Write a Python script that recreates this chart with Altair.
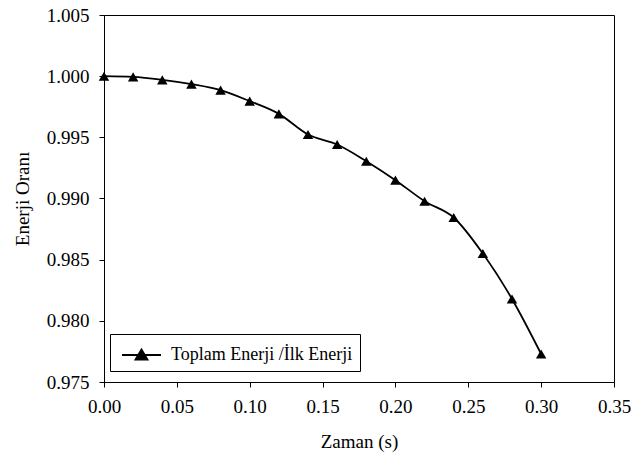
import altair as alt
import pandas as pd

zaman = [0.00, 0.02, 0.04, 0.06, 0.08, 0.10, 0.12, 0.14, 0.16, 0.18, 0.20, 0.22, 0.24, 0.26, 0.28, 0.30]
oran = [1.00000, 0.99994, 0.99970, 0.99935, 0.99886, 0.99796, 0.99692, 0.99523, 0.99441,
        0.99305, 0.99150, 0.98978, 0.98845, 0.98550, 0.98179, 0.97729]
seri = "Toplam Enerji /İlk Enerji"
x_ticks = [0.00, 0.05, 0.10, 0.15, 0.20, 0.25, 0.30, 0.35]
y_ticks = [0.975, 0.980, 0.985, 0.990, 0.995, 1.000, 1.005]

df = pd.DataFrame({"zaman": zaman, "oran": oran, "seri": [seri] * len(zaman)})

FONT = "Liberation Serif"

x_enc = alt.X("zaman:Q", scale=alt.Scale(domain=[0, 0.35], nice=False, zero=False),
              axis=alt.Axis(title="Zaman (s)", values=x_ticks, format=".2f",
                            labelFlush=False, labelOverlap=False,
                            labelPadding=10, titlePadding=16))
y_enc = alt.Y("oran:Q", scale=alt.Scale(domain=[0.975, 1.005], nice=False, zero=False),
              axis=alt.Axis(title="Enerji Oranı", values=y_ticks, format=".3f",
                            labelFlush=False, labelOverlap=False,
                            labelPadding=10, titlePadding=14))

line = alt.Chart(df).mark_line(interpolate="monotone", strokeWidth=1.8, color="black").encode(
    x=x_enc, y=y_enc,
    color=alt.Color("seri:N", scale=alt.Scale(range=["black"]),
                    legend=alt.Legend(
                        title=None, orient="none", legendX=6, legendY=319,
                        symbolType="M-1.5,0L1.5,0M-0.46,0.35L0,-0.42L0.46,0.35Z",
                        symbolSize=676, symbolFillColor="black", symbolStrokeColor="black",
                        symbolStrokeWidth=1.8, symbolOffset=10.5,
                        labelFont=FONT, labelFontSize=18, labelColor="black", labelOffset=15.5,
                        labelLimit=400,
                        strokeColor="black", fillColor="white", padding=7,
                    )),
)

points = alt.Chart(df).mark_point(shape="triangle-up", filled=True, size=110, opacity=1,
                                  color="black").encode(x=x_enc, y=y_enc)

chart = alt.layer(line, points).properties(
    width=510, height=367,
    autosize=alt.AutoSizeParams(type="none"),
    padding={"left": 104, "top": 15, "right": 18, "bottom": 75},
    background="white",
).configure_view(
    stroke="black", strokeWidth=1
).configure_axis(
    grid=False, domainColor="black", domainWidth=1, tickColor="black", tickSize=5,
    tickWidth=1, labelFont=FONT, labelFontSize=19, labelColor="black",
    titleFont=FONT, titleFontSize=19, titleColor="black", titleFontWeight="normal",
)

chart.save("out.html", embed_options={"renderer": "svg", "actions": False})
